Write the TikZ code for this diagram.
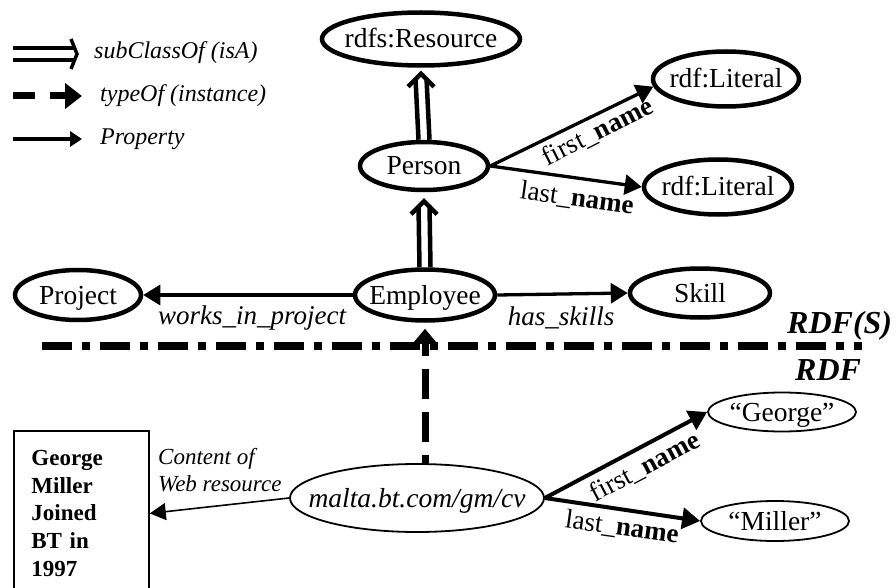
\documentclass[tikz,border=0pt]{standalone}
\usepackage{fontspec}
\setmainfont{Liberation Serif}
\usetikzlibrary{arrows.meta,shapes.geometric}
\newcommand\zbox[1]{\makebox[0pt]{#1}}
\newcommand\fsz[2]{\fontsize{#1}{#2}\selectfont}
\begin{document}
\begin{tikzpicture}[x=1pt,y=-1pt,
  cls/.style={ellipse, draw, line width=4.5pt, inner sep=0pt, font=\fsz{27.5}{30}, text height=18pt, text depth=0pt},
  inst/.style={ellipse, draw, line width=1.8pt, inner sep=0pt, font=\fsz{27.5}{30}, text height=18pt, text depth=0pt},
  prop/.style={line width=3.3pt, -{Triangle[length=17pt,width=20pt]}},
  propb/.style={line width=4pt, -{Triangle[length=18pt,width=21pt]}},
  isaline/.style={line width=4.5pt},
  isahead/.style={line width=4.5pt, line join=miter},
  lbl/.style={inner sep=0pt, font=\fsz{27}{29}},
  elbl/.style={inner sep=0pt, font=\fsz{27}{29}\itshape},
  legtext/.style={inner sep=0pt, anchor=west, font=\fsz{24}{26}\itshape},
]
\useasboundingbox (0,0) rectangle (896,588);

% ---------- legend ----------
\coordinate (ls) at (13,54); \coordinate (le) at (77,54);
\draw[line width=3.3pt] ([yshift=6pt]ls) -- ([xshift=-3pt,yshift=6pt]le);
\draw[line width=3.3pt] ([yshift=-6pt]ls) -- ([xshift=-3pt,yshift=-6pt]le);
\draw[line width=3.5pt, line join=miter] ([xshift=-6pt,yshift=15pt]le) -- (le) -- ([xshift=-6pt,yshift=-15pt]le);
\node[legtext] (lt1) at (94,53) {subClassOf (isA)};

\coordinate (ts) at (13,96); \coordinate (te) at (82,96);
\draw[line width=7pt, dash pattern=on 22pt off 15pt, -{Triangle[length=17pt,width=25pt]}] (ts) -- (te);
\node[legtext] (lt2) at (100,96) {typeOf (instance)};

\coordinate (ps) at (13,139); \coordinate (pe) at (82,139);
\draw[line width=3.3pt, -{Triangle[length=12pt,width=15pt]}] (ps) -- (pe);
\node[legtext] (lt3) at (100,139) {Property};

% ---------- RDFS nodes ----------
\node[cls, minimum width=198pt, minimum height=53pt] (res) at (421,39) {\zbox{rdfs:Resource}};
\node[cls, minimum width=128pt, minimum height=48pt] (person) at (424,166) {\zbox{Person}};
\node[cls, minimum width=140pt, minimum height=51pt] (emp) at (425,295) {\zbox{Employee}};
\node[cls, minimum width=126pt, minimum height=50pt] (proj) at (78,295) {\zbox{Project}};
\node[cls, minimum width=140pt, minimum height=49pt] (skill) at (700,293) {\zbox{Skill}};
\node[cls, minimum width=146pt, minimum height=55pt] (lit1) at (726,79) {\zbox{rdf:Literal}};
\node[cls, minimum width=148pt, minimum height=55pt] (lit2) at (718,187) {\zbox{rdf:Literal}};

% subClassOf arrows
\draw[isaline] ([xshift=-5.5pt]emp.north) -- ([xshift=-5.5pt,yshift=-13.5pt]person.south);
\draw[isaline] ([xshift=5.5pt]emp.north) -- ([xshift=5.5pt,yshift=-13.5pt]person.south);
\draw[isahead] ([xshift=-13pt,yshift=-22pt]person.south) -- ([yshift=-9pt]person.south) -- ([xshift=13pt,yshift=-22pt]person.south);

\draw[isaline] ([xshift=-5.5pt]person.north) -- ([xshift=-5.5pt,yshift=-10.5pt]res.south);
\draw[isaline] ([xshift=5.5pt]person.north) -- ([xshift=5.5pt,yshift=-10.5pt]res.south);
\draw[isahead] ([xshift=-13pt,yshift=-19pt]res.south) -- ([yshift=-6pt]res.south) -- ([xshift=13pt,yshift=-19pt]res.south);

% properties
\draw[prop] (emp.west) -- (proj.east);
\draw[prop] (emp.east) -- (skill.west);
\draw[prop] (person.east) -- (lit1.186);
\draw[prop] (person.east) -- (lit2.west);

\node[elbl] (wip) at (252,318) {works\_in\_project};
\node[elbl] (hs) at (561,318) {has\_skills};
\node[lbl, rotate=27] (fn1) at (598,132) {first\_\textbf{name}};
\node[lbl, rotate=-8] (ln1) at (577,199) {last\_\textbf{name}};

% ---------- divider ----------
\coordinate (d1) at (42,346); \coordinate (d2) at (862,346);
\draw[line width=8pt, dash pattern=on 30pt off 10pt on 8pt off 10pt] (d1) -- (d2);
\node[inner sep=0pt, anchor=base west, font=\fsz{32}{34}\bfseries\itshape] (rdfs) at (787,333) {RDF(S)};
\node[inner sep=0pt, anchor=base west, font=\fsz{32}{34}\bfseries\itshape] (rdf) at (795,380) {RDF};

% ---------- RDF nodes ----------
\node[inst, minimum width=254pt, minimum height=68pt] (malta) at (417,498) {\zbox{\itshape malta.bt.com/gm/cv}};
\node[inst, minimum width=148pt, minimum height=39pt] (george) at (782,412) {\zbox{“George”}};
\node[inst, minimum width=148pt, minimum height=40pt] (miller) at (775,521) {\zbox{“Miller”}};
\node[draw, line width=1.8pt, minimum width=135pt, minimum height=165pt, text width=100pt,
      inner xsep=17.5pt, inner ysep=0pt, align=left, font=\fsz{23}{27.75}\bfseries,
      anchor=north west] (box) at (13,430) {George\\Miller\\Joined\\BT in\\1997};

\draw[line width=7pt, dash pattern=on 30pt off 13pt, dash phase=22pt,
      -{Triangle[length=15pt,width=24pt]}, shorten >=6pt] (malta.north -| emp.south) -- (emp.south);

\draw[propb] (malta.east) -- (george.west);
\draw[propb] (malta.east) -- (miller.west);
\draw[line width=1.6pt, -{Triangle[length=16pt,width=17pt]}] (malta.west) -- (box.east);

\node[inner sep=0pt, anchor=west, align=left, font=\fsz{23}{27}\itshape] (content) at (158,470) {Content of\\Web resource};
\node[lbl, rotate=28] (fn2) at (645,467) {first\_\textbf{name}};
\node[lbl, rotate=-8] (ln2) at (622,528) {last\_\textbf{name}};
\end{tikzpicture}
\end{document}
